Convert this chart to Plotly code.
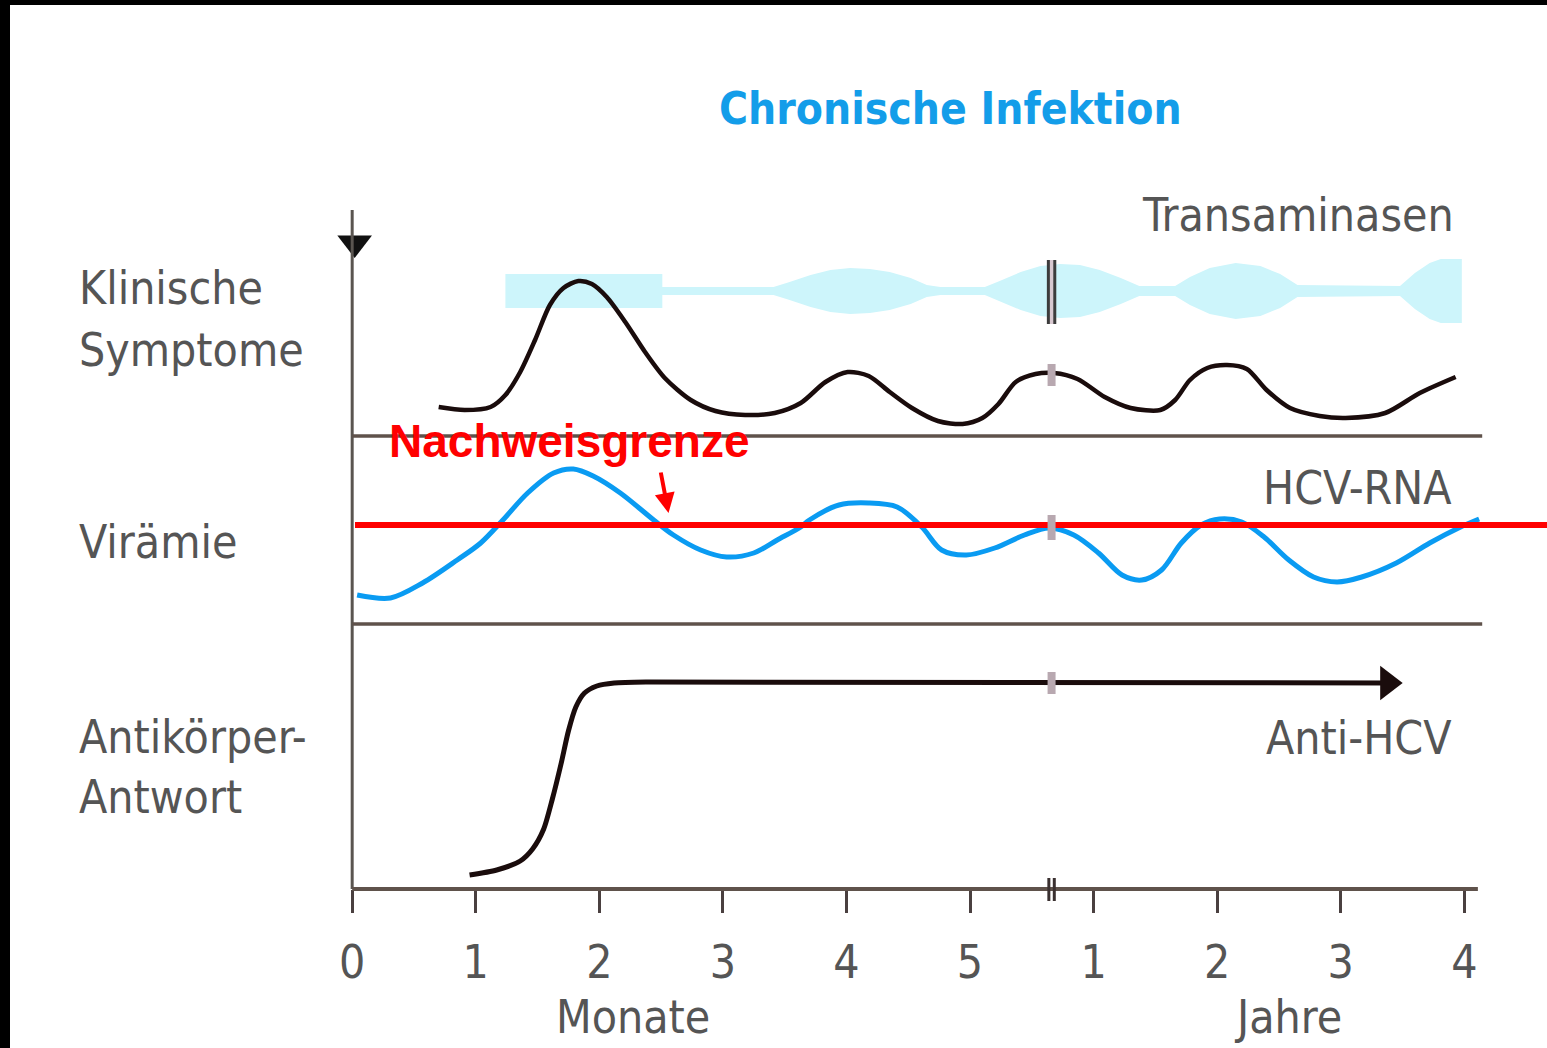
import plotly.graph_objects as go

# ---------------- data ----------------
# x axis: positions 0..5 = months, 6..9 = years 1..4 (axis broken at axis_break)
tick_positions = [0, 1, 2, 3, 4, 5, 6, 7, 8, 9]
tick_labels = ["0", "1", "2", "3", "4", "5", "1", "2", "3", "4"]
axis_break = 5.66

# Klinische Symptome (arbitrary level above baseline)
symptom_x = [0.70, 0.91, 1.12, 1.24, 1.36, 1.48, 1.60, 1.71, 1.83, 1.94, 2.06, 2.21, 2.37, 2.53,
             2.74, 2.94, 3.18, 3.42, 3.63, 3.83, 4.01, 4.18, 4.35, 4.53, 4.74, 4.94, 5.10, 5.23,
             5.37, 5.53, 5.68, 5.87, 6.09, 6.30, 6.54, 6.66, 6.78, 6.92, 7.08, 7.24, 7.40, 7.59,
             7.83, 8.04, 8.36, 8.64, 8.93]
symptom_y = [29, 26, 29, 41, 64, 96, 131, 148, 155, 152, 139, 114, 84, 58,
             36, 25, 21, 23, 33, 54, 64, 60, 44, 28, 15, 12, 18, 32,
             54, 62, 63, 57, 39, 28, 26, 36, 56, 68, 71, 67, 46, 28,
             20, 18, 23, 43, 59]

# Transaminasen band (centre level and half thickness)
band_center = 145
band_x = [1.24, 2.51, 2.51, 3.41, 3.54, 3.71, 3.87, 4.03, 4.19, 4.35, 4.52, 4.65, 4.76, 5.12,
          5.24, 5.41, 5.57, 5.73, 5.89, 6.05, 6.22, 6.37, 6.66, 6.78, 6.94, 7.15, 7.35, 7.51,
          7.65, 8.48, 8.60, 8.72, 8.81, 8.98]
band_half = [17, 17, 4, 4, 9, 16, 21, 23, 22, 19, 13, 6, 4, 4,
             10, 19, 25, 27, 26, 21, 13, 5, 5, 14, 23, 28, 25, 17,
             6, 5, 18, 28, 32, 32]

# Virämie (HCV-RNA)
viremia_x = [0.04, 0.31, 0.57, 0.85, 1.04, 1.22, 1.42, 1.63, 1.79, 1.95, 2.17, 2.44, 2.60, 2.82,
             3.03, 3.25, 3.44, 3.63, 3.70, 3.94, 4.18, 4.41, 4.61, 4.77, 4.97, 5.20, 5.44, 5.64,
             5.84, 6.04, 6.23, 6.39, 6.55, 6.71, 6.87, 7.02, 7.20, 7.38, 7.58, 7.78, 7.97, 8.17,
             8.45, 8.72, 8.97, 9.12]
viremia_y = [29, 26, 41, 64, 81, 104, 131, 151, 155, 148, 131, 104, 89, 74,
             67, 71, 84, 97, 104, 119, 121, 117, 97, 74, 69, 76, 89, 96,
             89, 71, 49, 44, 54, 81, 99, 105, 102, 87, 64, 47, 42, 47,
             61, 81, 97, 105]
detection_limit = 99

# Antikörper-Antwort (Anti-HCV)
antibody_x = [0.95, 1.17, 1.36, 1.46, 1.55, 1.62, 1.69, 1.75, 1.81, 1.88, 1.98, 2.12, 2.40, 8.40]
antibody_y = [14, 19, 28, 40, 60, 90, 125, 158, 182, 196, 203, 206, 207, 206]

# ---------------- layout helpers ----------------
W_FIG, H_FIG = 1547, 1048
L, R = 346, 58
PLOT_W = W_FIG - L - R


def px_x(px):
    return (px - L) / PLOT_W


def px_y(py):
    return 1 - py / H_FIG


FONT = "Liberation Sans Narrow, Arial Narrow, DejaVu Sans Condensed, Open Sans, sans-serif"
GRAY = "#555555"
BLUE = "#0a9bf2"
BAND = "#cdf5fb"
BASE = "#5f524b"

fig = go.Figure()

# Transaminasen band
upper = [band_center + h for h in band_half]
lower = [band_center - h for h in band_half]
fig.add_trace(go.Scatter(x=band_x + band_x[::-1], y=upper + lower[::-1], fill="toself",
                         fillcolor=BAND, line=dict(width=0, color=BAND), mode="lines",
                         xaxis="x", yaxis="y", hoverinfo="skip", showlegend=False))
# symptom curve
fig.add_trace(go.Scatter(x=symptom_x, y=symptom_y, mode="lines",
                         line=dict(color="#1a0c0c", width=4.5, shape="spline", smoothing=0.8),
                         xaxis="x", yaxis="y", showlegend=False))
# viremia curve
fig.add_trace(go.Scatter(x=viremia_x, y=viremia_y, mode="lines",
                         line=dict(color=BLUE, width=5, shape="spline", smoothing=0.9),
                         xaxis="x", yaxis="y2", showlegend=False))
# antibody curve
fig.add_trace(go.Scatter(x=antibody_x, y=antibody_y, mode="lines",
                         line=dict(color="#1a0c0c", width=5, shape="spline", smoothing=0.7),
                         xaxis="x", yaxis="y3", showlegend=False))
# arrow head of Anti-HCV
fig.add_trace(go.Scatter(x=[antibody_x[-1] - 0.02], y=[antibody_y[-1]], mode="markers",
                         marker=dict(symbol="triangle-right", size=30, color="#1a0c0c"),
                         cliponaxis=False, xaxis="x", yaxis="y3", showlegend=False))
# arrow head on vertical axis
fig.add_trace(go.Scatter(x=[0.02], y=[193], mode="markers",
                         marker=dict(symbol="triangle-down", size=30, color="#111111"),
                         cliponaxis=False, xaxis="x", yaxis="y", showlegend=False))

shapes = []
# black borders of the scanned image
shapes.append(dict(type="rect", xref="paper", yref="paper", x0=px_x(0), x1=px_x(10), y0=0, y1=1,
                   fillcolor="black", line=dict(width=0), layer="above"))
shapes.append(dict(type="rect", xref="paper", yref="paper", x0=px_x(0), x1=px_x(W_FIG),
                   y0=px_y(5), y1=1, fillcolor="black", line=dict(width=0), layer="above"))
# vertical axis line
shapes.append(dict(type="line", xref="x", yref="paper", x0=0, x1=0, y0=px_y(889), y1=px_y(210),
                   line=dict(color="#5a5550", width=3)))
# baselines
shapes.append(dict(type="line", xref="x", yref="paper", x0=0, x1=9.145, y0=px_y(436), y1=px_y(436),
                   line=dict(color=BASE, width=3.5)))
shapes.append(dict(type="line", xref="x", yref="paper", x0=0, x1=9.145, y0=px_y(624), y1=px_y(624),
                   line=dict(color=BASE, width=3.5)))
shapes.append(dict(type="line", xref="x", yref="paper", x0=0, x1=9.11, y0=px_y(889), y1=px_y(889),
                   line=dict(color=BASE, width=4)))
# detection limit
shapes.append(dict(type="line", xref="paper", yref="y2", x0=px_x(355), x1=px_x(W_FIG),
                   y0=detection_limit, y1=detection_limit, line=dict(color="#ff0000", width=6)))
# axis-break marks
for yref, y0, y1, dark in [("y", 112, 176, True), ("y", 50, 72, False), ("y2", 84, 109, False),
                           ("y3", 195, 217, False)]:
    shapes.append(dict(type="line", xref="x", yref=yref, x0=axis_break, x1=axis_break, y0=y0, y1=y1,
                       line=dict(color="#d8c8d0" if dark else "#b8a8b0", width=8)))
    if dark:
        for dx in (-0.026, 0.026):
            shapes.append(dict(type="line", xref="x", yref=yref, x0=axis_break + dx, x1=axis_break + dx,
                               y0=y0, y1=y1, line=dict(color="#3c3c3c", width=3)))
for dx in (-0.022, 0.022):
    shapes.append(dict(type="line", xref="x", yref="paper", x0=axis_break + dx, x1=axis_break + dx,
                       y0=px_y(901), y1=px_y(878), line=dict(color="#3a3030", width=3)))

annotations = []


def label(text, px, py, anchor="left", size=46, color=GRAY, family=FONT, bold=False):
    annotations.append(dict(text=("<b>%s</b>" % text) if bold else text, xref="paper", yref="paper",
                            x=px_x(px), y=px_y(py), xanchor=anchor, yanchor="middle",
                            showarrow=False, font=dict(size=size, color=color, family=family)))


label("Chronische Infektion", 950, 108, anchor="center", size=44, color="#139de9", bold=True)
label("Klinische", 77, 288)
label("Symptome", 77, 350)
label("Virämie", 77, 542)
label("Antikörper-", 77, 737)
label("Antwort", 77, 797)
label("Transaminasen", 1456, 215, anchor="right")
label("HCV-RNA", 1454, 488, anchor="right")
label("Anti-HCV", 1454, 738, anchor="right")
label("Monate", 633, 1017, anchor="center")
label("Jahre", 1288, 1017, anchor="center")
label("Nachweisgrenze", 387, 441, size=46, color="#ff0000",
      family="Liberation Sans, Arial, sans-serif", bold=True)

# red arrow pointing to the detection limit
annotations.append(dict(text="", xref="x", yref="y2", x=2.56, y=111, ax=-8, ay=-42,
                        showarrow=True, arrowhead=2, arrowsize=1, arrowwidth=4, arrowcolor="#ff0000"))

fig.update_layout(
    width=W_FIG, height=H_FIG,
    margin=dict(l=L, r=R, t=0, b=0),
    paper_bgcolor="white", plot_bgcolor="white",
    showlegend=False,
    xaxis=dict(range=[-0.05, 9.2], anchor="y3", tickvals=tick_positions, ticktext=tick_labels,
               ticks="outside", ticklen=23, tickwidth=3, tickcolor="#4a4040",
               tickfont=dict(size=46, color=GRAY, family=FONT), ticklabelstandoff=10,
               showgrid=False, zeroline=False, showline=False, fixedrange=True),
    yaxis=dict(domain=[px_y(436), px_y(210)], range=[0, 226], anchor="x", visible=False),
    yaxis2=dict(domain=[px_y(624), px_y(436)], range=[0, 188], anchor="x", visible=False),
    yaxis3=dict(domain=[px_y(889), px_y(624)], range=[0, 265], anchor="x", visible=False),
    shapes=shapes,
    annotations=annotations,
)

# remove the browser's default page margin so the figure starts at the window corner
fig.write_html("out.html", config={"displayModeBar": False},
               post_script="document.body.style.margin='0px';document.body.style.overflow='hidden';")
